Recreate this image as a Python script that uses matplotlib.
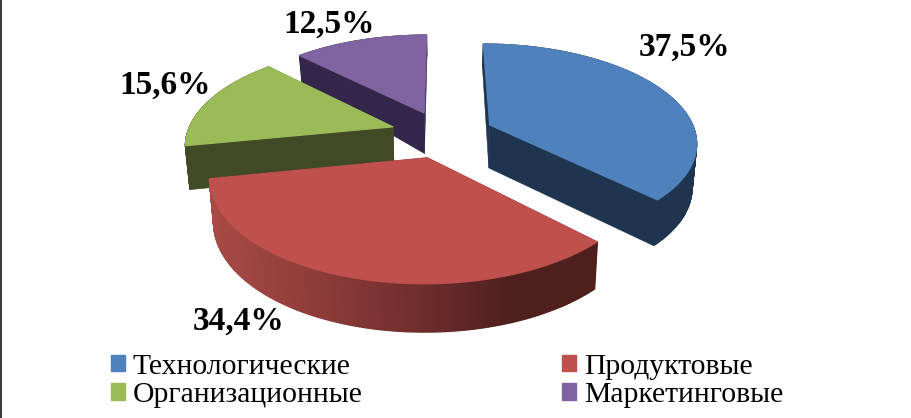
import numpy as np
import matplotlib
matplotlib.use("Agg")
import matplotlib.pyplot as plt
from matplotlib.patches import Patch

labels = ["Технологические", "Продуктовые", "Организационные", "Маркетинговые"]
values = [37.5, 34.4, 15.6, 12.5]
value_labels = ["37,5%", "34,4%", "15,6%", "12,5%"]

top_colors = ["#4F81BD", "#C0504D", "#9BBB59", "#8064A2"]
wall_colors = ["#1F344F", "#4E1F1D", "#404A24", "#33264A"]

# how far each slice is pulled out, in pie radii
shift_x = [0.23, -0.073, -0.245, -0.095]
shift_y = [0.0, -0.33, -0.02, 0.13]
label_pos = [(685, 47), (239, 321), (165, 85), (329, 24)]
layer = [2, 3, 1, 0]

# view of the pie disc
cx, cy = 443, 125
rx, ry = 203, 94
persp = 0.16


def project(x, y, bottom=False):
    x = np.asarray(x, dtype=float)
    y = np.asarray(y, dtype=float)
    w = 1 + persp * y
    px = cx + rx * x / w
    py = cy - ry * y / w
    if bottom:
        px = cx + (px - cx) * 0.982
        py = py + np.interp(y, [-1.4, 0, 1.2], [48.5, 43, 20])
    return px, py


def red_wall(px):
    # the front of the red slice fades from left to right
    r = np.interp(px, [210, 300, 400, 456, 510], [0xA8, 0x92, 0x75, 0x62, 0x4E]) / 255
    g = np.interp(px, [210, 300, 400, 456, 510], [0x4A, 0x3E, 0x30, 0x28, 0x1F]) / 255
    b = np.interp(px, [210, 300, 400, 456, 510], [0x46, 0x3B, 0x2F, 0x27, 0x1D]) / 255
    return (r, g, b)


fig = plt.figure(figsize=(9.12, 4.18), dpi=100)
ax = fig.add_axes([0, 0, 1, 1])
ax.set_xlim(0, 912)
ax.set_ylim(418, 0)
ax.axis("off")
ax.axvline(0.7, color="black", lw=1.1)

# slice angles run clockwise from twelve o'clock
ends = 90 - np.cumsum(values) / np.sum(values) * 360
starts = np.r_[90, ends[:-1]]

# back slices first, the red one goes on top of everything
for i in [3, 2, 0, 1]:
    t = np.radians(np.linspace(starts[i], ends[i], 160))
    ax_x = shift_x[i] + np.cos(t)
    ax_y = shift_y[i] + np.sin(t)
    x0, y0 = project(shift_x[i], shift_y[i])
    bx0, by0 = project(shift_x[i], shift_y[i], bottom=True)
    px, py = project(ax_x, ax_y)
    bx, by = project(ax_x, ax_y, bottom=True)

    # flat cut faces
    for j in [0, -1]:
        ax.fill([x0, px[j], bx[j], bx0], [y0, py[j], by[j], by0],
                color=wall_colors[i], lw=0.4, zorder=1 + layer[i] * 3)
    # round outer wall in strips, only the red one fades
    for j in range(len(t) - 1):
        c = wall_colors[i]
        if i == 1:
            c = red_wall(0.5 * (px[j] + px[j + 1]))
        ax.fill([px[j], px[j + 1], bx[j + 1], bx[j]], [py[j], py[j + 1], by[j + 1], by[j]],
                color=c, lw=1.0 if i == 1 else 0.8, zorder=2 + layer[i] * 3)
    ax.fill(np.r_[x0, px], np.r_[y0, py], color=top_colors[i], lw=0.8,
            zorder=3 + layer[i] * 3)

for txt, (lx, ly) in zip(value_labels, label_pos):
    ax.text(lx, ly, txt, ha="center", va="center", family="Liberation Serif",
            fontweight="bold", fontsize=24, color="black", zorder=30)

handles = [Patch(color=c) for c in top_colors]
order = [0, 2, 1, 3]
leg = ax.legend([handles[k] for k in order], [labels[k] for k in order], ncol=2,
                loc="lower left", bbox_to_anchor=(111 / 912, 1 - 408 / 418),
                frameon=False, prop={"family": "Liberation Serif", "size": 21.3},
                handlelength=0.47, handleheight=0.47, handletextpad=0.27,
                columnspacing=6.75, labelspacing=0.08, borderpad=0, borderaxespad=0)
fig.savefig("out.png", dpi=100)
